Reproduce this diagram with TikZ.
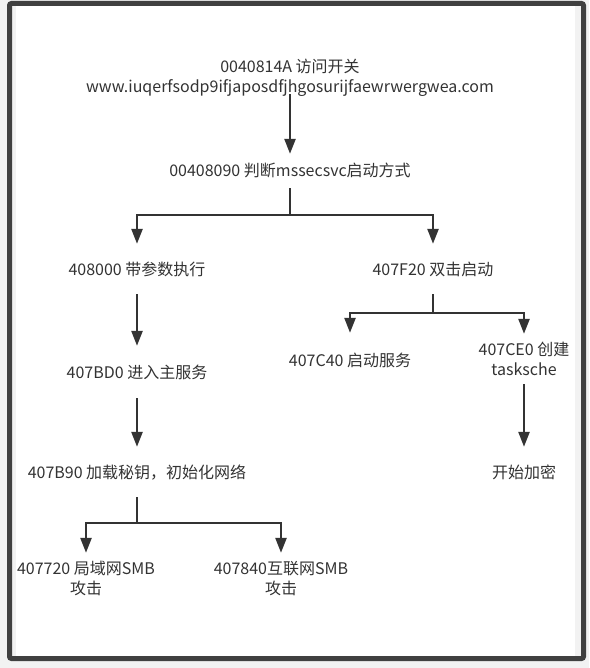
\documentclass[tikz,border=0pt]{standalone}
\usepackage{fontspec}
\setmainfont{Noto Sans CJK SC}
\usetikzlibrary{arrows.meta}
\definecolor{txtgray}{HTML}{333333}
\definecolor{framegray}{HTML}{404040}
\definecolor{bggray}{HTML}{F2F2F2}
\begin{document}
\begin{tikzpicture}[x=1pt,y=-1pt,
  lbl/.style={text=txtgray,align=center,inner sep=0pt,font=\fontsize{16}{20}\selectfont,
    text height=13pt,text depth=1pt,minimum height=50pt},
  twoline/.style={text height=33pt},
  flow/.style={draw=txtgray,line width=2.5pt,-{Triangle[length=15pt,width=11pt]}}]
	\useasboundingbox (0,0) rectangle (589,668);
	\fill[bggray] (0,0) rectangle (589,668);
	\fill[white] (16,6) rectangle (575,656);
	\draw[framegray,line width=5pt,rounded corners=2pt] (9.5,3.5) rectangle (583.5,658.5);
	\node[lbl,twoline,minimum height=34pt] (root) at (290,77) {0040814A 访问开关\\www.iuqerfsodp9ifjaposdfjhgosurijfaewrwergwea.com};
	\node[lbl,minimum height=34pt] (judge) at (290,171) {00408090 判断mssecsvc启动方式};
	\node[lbl] (arg) at (137,269) {408000 带参数执行};
	\node[lbl] (dbl) at (433,269) {407F20 双击启动};
	\node[lbl,minimum height=52pt] (mainsvc) at (137,372) {407BD0 进入主服务};
	\node[lbl] (initnet) at (137,472) {407B90 加载秘钥，初始化网络};
	\node[lbl,twoline] (lan) at (86,578) {407720 局域网SMB\\攻击};
	\node[lbl,twoline] (wan) at (281,578) {407840互联网SMB\\攻击};
	\node[lbl,minimum height=54pt] (svc) at (350,360) {407C40 启动服务};
	\node[lbl,twoline] (task) at (524,359) {407CE0 创建\\tasksche};
	\node[lbl] (enc) at (524,472) {开始加密};
	\draw[flow] (root) -- (judge);
	\draw[flow] (judge.south) -- ++(0,27) -| (arg.north);
	\draw[flow] (judge.south) -- ++(0,27) -| (dbl.north);
	\draw[flow] (arg) -- (mainsvc);
	\draw[flow] (mainsvc) -- (initnet);
	\draw[flow] (initnet.south) -- ++(0,26) -| (lan.north);
	\draw[flow] (initnet.south) -- ++(0,26) -| (wan.north);
	\draw[flow] (dbl.south) -- ++(0,19) -| (svc.north);
	\draw[flow] (dbl.south) -- ++(0,19) -| (task.north);
	\draw[flow] (task) -- (enc);
\end{tikzpicture}
\end{document}
